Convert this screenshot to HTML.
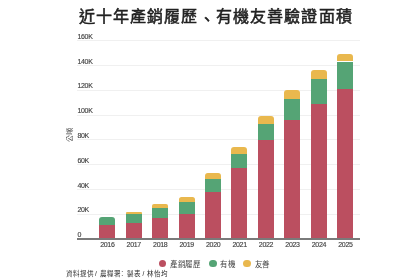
<!DOCTYPE html>
<html lang="zh-TW"><head><meta charset="utf-8">
<style>
html,body{margin:0;padding:0;background:#fff;width:420px;height:280px;overflow:hidden;position:relative;font-family:"Liberation Sans",sans-serif;}
.t{position:absolute;left:78.5px;top:6.3px;font-size:16px;letter-spacing:1.15px;font-weight:400;-webkit-text-stroke:0.5px #222;color:#222;line-height:22px;white-space:nowrap;}
.gl{position:absolute;left:77px;width:283px;height:1px;background:#f0f0f0;}
.yl{position:absolute;left:77.4px;font-size:7px;letter-spacing:-0.3px;line-height:8px;color:#444;-webkit-text-stroke:0.15px #444;}
.s{position:absolute;}
.axis{position:absolute;left:77.2px;width:282.5px;top:238.1px;height:1.6px;background:#7a7a7a;}
.yr{position:absolute;top:240px;width:30px;text-align:center;font-size:7px;letter-spacing:-0.3px;text-indent:0.3px;line-height:9px;color:#444;-webkit-text-stroke:0.15px #444;}
.ut{position:absolute;left:60.25px;top:130.25px;width:20px;height:10px;transform:rotate(-90deg);font-size:7px;line-height:10px;text-align:center;color:#444;}
.dot{position:absolute;width:7.8px;height:7.8px;border-radius:50%;}
.lt{position:absolute;font-size:7.5px;letter-spacing:0.4px;line-height:10px;color:#444;white-space:nowrap;}
.ft{position:absolute;top:268.5px;font-size:6.5px;line-height:9px;color:#2a2a2a;white-space:nowrap;}
</style></head><body><div id="w" style="position:absolute;left:0;top:0;width:420px;height:280px;will-change:transform">
<div class="t">近十年產銷履歷<span style="position:relative;top:2.5px">、</span>有機友善驗證面積</div>
<div class="gl" style="top:40.10px"></div><div class="yl" style="top:32.70px">160K</div><div class="gl" style="top:64.90px"></div><div class="yl" style="top:57.50px">140K</div><div class="gl" style="top:89.70px"></div><div class="yl" style="top:82.30px">120K</div><div class="gl" style="top:114.50px"></div><div class="yl" style="top:107.10px">100K</div><div class="gl" style="top:139.30px"></div><div class="yl" style="top:131.90px">80K</div><div class="gl" style="top:164.10px"></div><div class="yl" style="top:156.70px">60K</div><div class="gl" style="top:188.90px"></div><div class="yl" style="top:181.50px">40K</div><div class="gl" style="top:213.70px"></div><div class="yl" style="top:206.30px">20K</div><div class="yl" style="top:230.50px">0</div>
<div class="s" style="left:99.20px;top:217.00px;width:16.0px;height:8.00px;background:#55a475;border-radius:3.00px 3.00px 0 0"></div><div class="s" style="left:99.20px;top:225.00px;width:16.0px;height:13.50px;background:#bb4f60;border-radius:0.00px 0.00px 0 0"></div><div class="yr" style="left:92.20px">2016</div><div class="s" style="left:125.65px;top:211.90px;width:16.0px;height:2.00px;background:#e9b84e;border-radius:1.00px 1.00px 0 0"></div><div class="s" style="left:125.65px;top:213.90px;width:16.0px;height:8.90px;background:#55a475;border-radius:0.00px 0.00px 0 0"></div><div class="s" style="left:125.65px;top:222.80px;width:16.0px;height:15.70px;background:#bb4f60;border-radius:0.00px 0.00px 0 0"></div><div class="yr" style="left:118.65px">2017</div><div class="s" style="left:152.10px;top:203.90px;width:16.0px;height:4.00px;background:#e9b84e;border-radius:2.00px 2.00px 0 0"></div><div class="s" style="left:152.10px;top:207.90px;width:16.0px;height:10.50px;background:#55a475;border-radius:0.00px 0.00px 0 0"></div><div class="s" style="left:152.10px;top:218.40px;width:16.0px;height:20.10px;background:#bb4f60;border-radius:0.00px 0.00px 0 0"></div><div class="yr" style="left:145.10px">2018</div><div class="s" style="left:178.55px;top:197.00px;width:16.0px;height:5.10px;background:#e9b84e;border-radius:2.55px 2.55px 0 0"></div><div class="s" style="left:178.55px;top:202.10px;width:16.0px;height:11.70px;background:#55a475;border-radius:0.00px 0.00px 0 0"></div><div class="s" style="left:178.55px;top:213.80px;width:16.0px;height:24.70px;background:#bb4f60;border-radius:0.00px 0.00px 0 0"></div><div class="yr" style="left:171.55px">2019</div><div class="s" style="left:205.00px;top:173.30px;width:16.0px;height:5.80px;background:#e9b84e;border-radius:2.90px 2.90px 0 0"></div><div class="s" style="left:205.00px;top:179.10px;width:16.0px;height:12.90px;background:#55a475;border-radius:0.00px 0.00px 0 0"></div><div class="s" style="left:205.00px;top:192.00px;width:16.0px;height:46.50px;background:#bb4f60;border-radius:0.00px 0.00px 0 0"></div><div class="yr" style="left:198.00px">2020</div><div class="s" style="left:231.45px;top:147.20px;width:16.0px;height:6.40px;background:#e9b84e;border-radius:3.00px 3.00px 0 0"></div><div class="s" style="left:231.45px;top:153.60px;width:16.0px;height:14.40px;background:#55a475;border-radius:0.00px 0.00px 0 0"></div><div class="s" style="left:231.45px;top:168.00px;width:16.0px;height:70.50px;background:#bb4f60;border-radius:0.00px 0.00px 0 0"></div><div class="yr" style="left:224.45px">2021</div><div class="s" style="left:257.90px;top:116.00px;width:16.0px;height:7.60px;background:#e9b84e;border-radius:3.00px 3.00px 0 0"></div><div class="s" style="left:257.90px;top:123.60px;width:16.0px;height:16.70px;background:#55a475;border-radius:0.00px 0.00px 0 0"></div><div class="s" style="left:257.90px;top:140.30px;width:16.0px;height:98.20px;background:#bb4f60;border-radius:0.00px 0.00px 0 0"></div><div class="yr" style="left:250.90px">2022</div><div class="s" style="left:284.35px;top:90.00px;width:16.0px;height:8.90px;background:#e9b84e;border-radius:3.00px 3.00px 0 0"></div><div class="s" style="left:284.35px;top:98.90px;width:16.0px;height:21.30px;background:#55a475;border-radius:0.00px 0.00px 0 0"></div><div class="s" style="left:284.35px;top:120.20px;width:16.0px;height:118.30px;background:#bb4f60;border-radius:0.00px 0.00px 0 0"></div><div class="yr" style="left:277.35px">2023</div><div class="s" style="left:310.80px;top:70.20px;width:16.0px;height:8.70px;background:#e9b84e;border-radius:3.00px 3.00px 0 0"></div><div class="s" style="left:310.80px;top:78.90px;width:16.0px;height:25.20px;background:#55a475;border-radius:0.00px 0.00px 0 0"></div><div class="s" style="left:310.80px;top:104.10px;width:16.0px;height:134.40px;background:#bb4f60;border-radius:0.00px 0.00px 0 0"></div><div class="yr" style="left:303.80px">2024</div><div class="s" style="left:337.25px;top:53.60px;width:16.0px;height:7.90px;background:#e9b84e;border-radius:3.00px 3.00px 0 0"></div><div class="s" style="left:337.25px;top:61.50px;width:16.0px;height:27.10px;background:#55a475;border-radius:0.00px 0.00px 0 0"></div><div class="s" style="left:337.25px;top:88.60px;width:16.0px;height:149.90px;background:#bb4f60;border-radius:0.00px 0.00px 0 0"></div><div class="yr" style="left:330.25px">2025</div>
<div class="axis"></div>
<div class="ut">公噸</div>
<div class="dot" style="left:158.6px;top:259.6px;background:#bb4f60"></div>
<div class="lt" style="left:170.4px;top:260.2px">產銷履歷</div>
<div class="dot" style="left:208.75px;top:259.6px;background:#55a475"></div>
<div class="lt" style="left:220.4px;top:260.2px">有機</div>
<div class="dot" style="left:243.1px;top:259.6px;background:#e9b84e"></div>
<div class="lt" style="left:254.7px;top:260.2px">友善</div>
<div class="ft" style="left:66px">資料提供</div><div class="ft" style="left:95px">/</div><div class="ft" style="left:99.6px">農糧署</div><div class="ft" style="left:118.6px">：</div><div class="ft" style="left:127.2px">製表</div><div class="ft" style="left:142.6px">/</div><div class="ft" style="left:146.7px">林怡均</div>
</div></body></html>
